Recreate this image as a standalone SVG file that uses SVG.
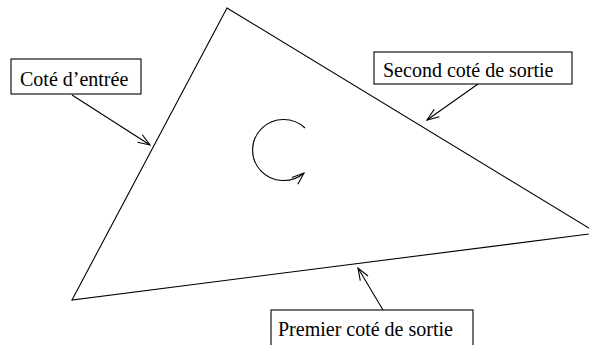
<svg xmlns="http://www.w3.org/2000/svg" width="589" height="345" viewBox="0 0 589 345">
<style>
.ln{fill:none;stroke:#000;stroke-width:1.1}
.box{fill:#fff;stroke:#000;stroke-width:1.1}
.t{font-family:"Liberation Serif","Times New Roman",serif;font-size:20px;fill:#000}
</style>
<defs>
<marker id="ah" markerUnits="userSpaceOnUse" markerWidth="14" markerHeight="12" refX="12" refY="5" orient="auto" overflow="visible">
<path d="M0,0.5 L12,5 L0,9.5" fill="none" stroke="#000" stroke-width="1.1"/>
</marker>
</defs>
<g id="triangle">
<path class="ln" d="M227,8 L597,233 L72,300 Z"/>
</g>
<g id="rotation">
<path class="ln" d="M305,128 A31 30.5 0 1 0 304,173" marker-end="url(#ah)"/>
</g>
<g id="connectors">
<line class="ln" x1="72" y1="95" x2="150" y2="145" marker-end="url(#ah)"/>
<line class="ln" x1="478" y1="84" x2="427" y2="120" marker-end="url(#ah)"/>
<line class="ln" x1="383" y1="310" x2="358" y2="268" marker-end="url(#ah)"/>
</g>
<g id="label-entree">
<rect class="box" x="11" y="59" width="130" height="35"/>
<text class="t" x="20" y="86">Coté d’entrée</text>
</g>
<g id="label-second">
<rect class="box" x="374" y="52" width="198" height="32"/>
<text class="t" x="383" y="77">Second coté de sortie</text>
</g>
<g id="label-premier">
<rect class="box" x="271" y="310" width="202" height="40"/>
<text class="t" x="278" y="336">Premier coté de sortie</text>
</g>
</svg>
